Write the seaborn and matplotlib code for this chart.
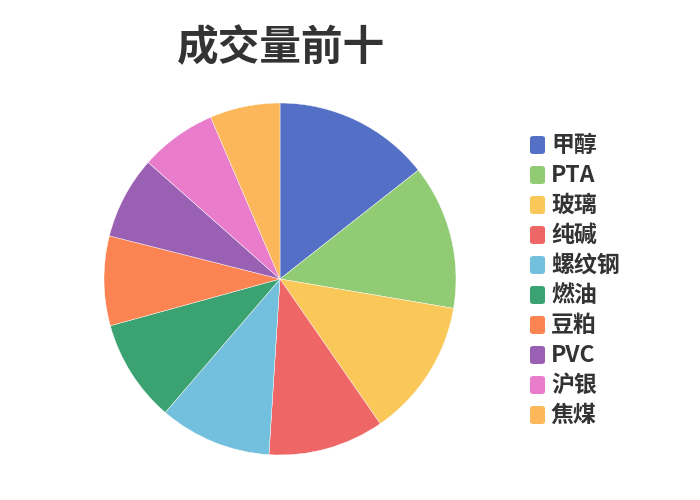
import matplotlib
matplotlib.use("Agg")
import matplotlib.pyplot as plt
from matplotlib.patches import FancyBboxPatch
import seaborn as sns

labels = ['甲醇', 'PTA', '玻璃', '纯碱', '螺纹钢', '燃油', '豆粕', 'PVC', '沪银', '焦煤']
values = [518, 478, 457, 383, 371, 339, 296, 273, 253, 232]
colors = ['#5470c6', '#91cc75', '#fac858', '#ee6666', '#73c0de',
          '#3ba272', '#fc8452', '#9a60b4', '#ea7ccc', '#fbb75a']
title = '成交量前十'

sns.set_theme(style='white')
plt.rcParams['font.family'] = ['Noto Sans CJK SC', 'DejaVu Sans']

W, H = 700, 500
fig = plt.figure(figsize=(7, 5), dpi=100)
fig.patch.set_facecolor('white')

# pie axes: centre (280, 279) px, radius 176 px
cx, cy, r = 280, 279, 176
ax = fig.add_axes([(cx - r) / W, (H - cy - r) / H, 2 * r / W, 2 * r / H])
ax.pie(values, colors=colors, startangle=90, counterclock=False,
       radius=1, wedgeprops=dict(linewidth=0.3, edgecolor='white'))
ax.set_xlim(-1, 1)
ax.set_ylim(-1, 1)
ax.set_aspect('equal')
ax.axis('off')

fig.text(281 / W, 1 - 48 / H, title, ha='center', va='center',
         fontsize=30, fontweight='bold', color='#333333')

# legend drawn by hand
y0, step = 145, 30
for i, (lab, col) in enumerate(zip(labels, colors)):
    yc = y0 + i * step
    box = FancyBboxPatch((530 / W, 1 - (yc + 9) / H), 15 / W, 18 / H,
                         boxstyle='round,pad=0,rounding_size=0.005',
                         transform=fig.transFigure, facecolor=col,
                         edgecolor='none')
    fig.patches.append(box)
    fig.text(551 / W, 1 - yc / H, lab, ha='left', va='center',
             fontsize=16.5, fontweight='bold', color='#333333')

fig.savefig('out.png', dpi=100)
